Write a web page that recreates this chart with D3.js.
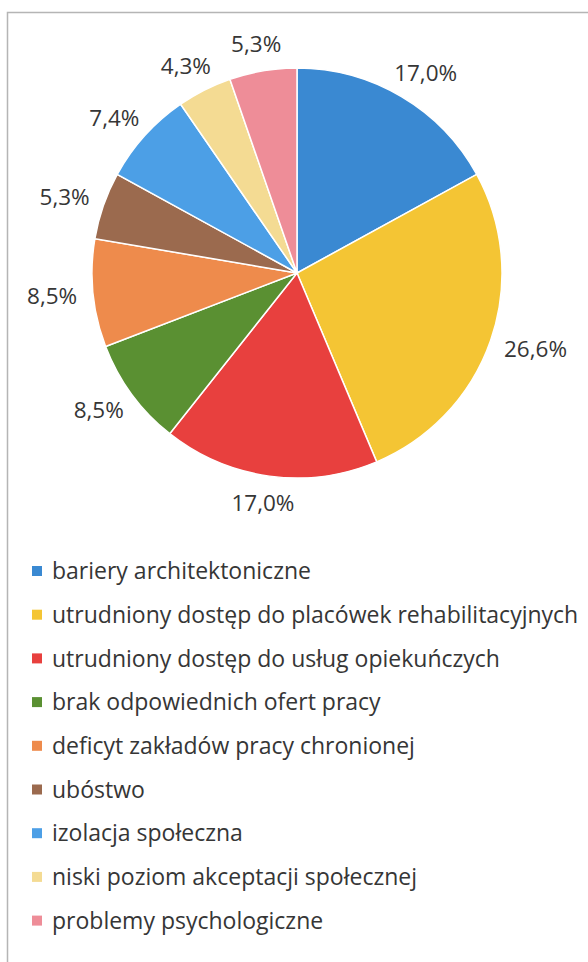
<!DOCTYPE html>
<html>
<head>
<meta charset="utf-8">
<script src="https://cdn.jsdelivr.net/npm/d3@7"></script>
<style>
  body { margin: 0; background: #fff; }
  svg text { font-family: "Open Sans", Carlito, Calibri, sans-serif; fill: #363636; }
</style>
</head>
<body>
<div id="chart"></div>
<script>
var categories = [
  "bariery architektoniczne",
  "utrudniony dostęp do placówek rehabilitacyjnych",
  "utrudniony dostęp do usług opiekuńczych",
  "brak odpowiednich ofert pracy",
  "deficyt zakładów pracy chronionej",
  "ubóstwo",
  "izolacja społeczna",
  "niski poziom akceptacji społecznej",
  "problemy psychologiczne"
];
var values = [17.0, 26.6, 17.0, 8.5, 8.5, 5.3, 7.4, 4.3, 5.3];
var labels = ["17,0%", "26,6%", "17,0%", "8,5%", "8,5%", "5,3%", "7,4%", "4,3%", "5,3%"];
var colours = ["#3a89d2", "#f4c534", "#e8403e", "#5a9032", "#ee8b4c", "#9b6a4e", "#4c9fe6", "#f4db93", "#ee8d98"];

var width = 588, height = 962;
var cx = 297, cy = 273, radius = 205;

var svg = d3.select("#chart").append("svg")
  .attr("width", width)
  .attr("height", height);

// frame of the scanned chart area
svg.append("path")
  .attr("d", "M7.5," + height + "V12.5H" + width)
  .attr("fill", "none")
  .attr("stroke", "#b5b5b5")
  .attr("stroke-width", 1.5);

var pie = d3.pie().sort(null).value(function(d) { return d; });
var arcs = pie(values);

var arc = d3.arc().innerRadius(0).outerRadius(radius);

var g = svg.append("g")
  .attr("transform", "translate(" + cx + "," + cy + ")");

g.selectAll("path.slice")
  .data(arcs)
  .enter().append("path")
  .attr("class", "slice")
  .attr("fill", function(d, i) { return colours[i]; })
  .attr("stroke", "#fff")
  .attr("stroke-width", 1.5)
  .attr("d", arc);

// labels outside the slices, box pushed away along the mid angle
var labelR = radius + 16;
g.selectAll("text.lbl")
  .data(arcs)
  .enter().append("text")
  .attr("class", "lbl")
  .attr("font-size", 22.5)
  .attr("text-anchor", "middle")
  .attr("dy", "0.36em")
  .text(function(d, i) { return labels[i]; })
  .each(function(d) {
    var a = (d.startAngle + d.endAngle) / 2;
    var w = this.getComputedTextLength(), h = 22;
    var x = labelR * Math.sin(a) + Math.sin(a) * w / 2;
    var y = -labelR * Math.cos(a) - Math.cos(a) * h / 2;
    d3.select(this).attr("x", x).attr("y", y);
  });

// legend
var legend = svg.append("g")
  .attr("transform", "translate(32,571)");

var rows = legend.selectAll("g")
  .data(categories)
  .enter().append("g")
  .attr("transform", function(d, i) { return "translate(0," + (i * 43.7) + ")"; });

rows.append("rect")
  .attr("x", 0)
  .attr("y", -5)
  .attr("width", 10)
  .attr("height", 10)
  .attr("fill", function(d, i) { return colours[i]; });

rows.append("text")
  .attr("x", 20)
  .attr("dy", "0.36em")
  .attr("font-size", 23)
  .text(function(d) { return d; });
</script>
</body>
</html>
